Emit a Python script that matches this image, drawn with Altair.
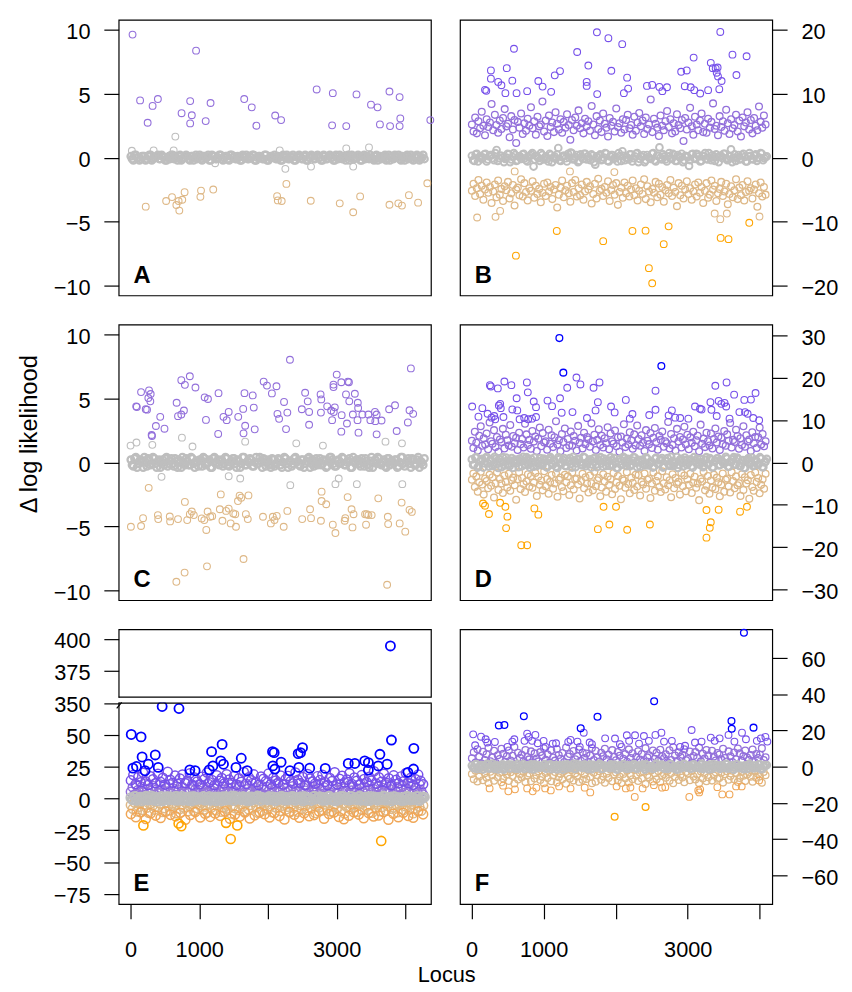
import altair as alt
import numpy as np
import pandas as pd

FONT = "Liberation Sans"

# ---------------- data ----------------
# dense bands: values at evenly sampled loci (two interleaved samples per band where it is solid)
A_grey = [0.1,-0.2,0.2,0.0,-0.1,0.1,-0.2,0.1,0.2,-0.1,0.0,0.2,-0.1,0.1,-0.2,0.0,-0.1,0.2,0.1,-0.2,
          0.2,-0.1,0.0,0.1,-0.2,0.1,0.0,-0.1,0.2,-0.2,0.1,0.0,-0.2,0.2,0.1,-0.1,0.2,-0.1,0.0,0.1,
          -0.2,0.2,0.1,-0.1,0.0,-0.2,0.1,0.2,-0.1,0.0,0.2,-0.2,0.1,0.0,-0.1,0.2,-0.2,0.1,0.0,-0.1,
          0.1,-0.2,0.2,0.0,-0.1,0.1,0.2,-0.2,0.0,0.1,-0.1,0.2,-0.2,0.0,0.1,-0.1,0.2,0.0,-0.2,0.1,
          -0.1,0.2,0.0,-0.2,0.1,0.2,-0.1,0.0,0.1,-0.2,0.2,-0.1,0.0,0.1,-0.2,0.2,0.1,-0.1,0.0,-0.2,
          0.2,0.0,-0.1,0.1,-0.2,0.2,0.0,-0.1,0.1,0.2,-0.2,0.0,0.1,-0.1,0.2,-0.2,0.0,0.1,-0.1,0.2]
A_grey2 = [-0.1,0.2,0.0,-0.2,0.1,0.1,-0.1,0.2,-0.2,0.0,0.1,-0.1,0.2,0.0,-0.2,0.1,0.2,-0.1,0.0,0.1,
           -0.2,0.0,0.2,-0.1,0.1,-0.2,0.2,0.0,-0.1,0.1,0.0,0.2,-0.2,0.1,-0.1,0.0,0.2,-0.2,0.1,-0.1,
           0.2,0.0,-0.1,0.1,-0.2,0.2,0.0,-0.1,0.1,0.2,-0.2,0.0,0.1,-0.1,0.2,-0.2,0.0,0.1,0.2,-0.1,
           0.0,-0.2,0.1,0.2,-0.1,0.0,-0.2,0.1,0.2,-0.1,0.1,-0.2,0.0,0.2,-0.1,0.1,0.0,-0.2,0.2,-0.1,
           0.1,0.0,-0.2,0.2,-0.1,0.0,0.1,-0.2,0.2,0.1,-0.1,0.0,0.2,-0.2,0.1,-0.1,0.0,0.2,-0.1,0.1,
           -0.2,0.1,0.0,0.2,-0.1,-0.2,0.1,0.2,0.0,-0.1,0.1,-0.2,0.2,0.0,-0.1,0.1,0.2,-0.2,0.0,-0.1]
A_grey_out_locus = [652,2254,3242,3472,3141,2628,1232,336,628,19,2172]
A_grey_out_value = [1.65,-0.88,-0.7,0.8,0.72,-0.7,-0.44,0.57,0.57,0.54,0.57]
A_pur_locus = [29,954,139,249,321,398,743,868,892,868,1094,1165,1655,1765,1832,2106,2192,2710,2945,2935,
               3141,3290,3501,3597,3631,3770,3779,3918,3928,3918,4365]
A_pur_value = [9.64,8.38,4.48,2.73,4.05,4.59,3.48,4.43,3.32,2.68,2.86,4.28,4.59,3.94,2.5,3.3,2.94,5.34,5.05,2.53,
               2.47,4.95,4.15,3.94,2.6,5.18,2.47,4.74,3.07,2.47,2.94]
A_tan_locus = [221,518,604,667,700,710,753,787,1026,1017,1204,2134,2144,2201,2269,2624,3046,3242,3343,3770,
               3899,3952,4053,4187,4321]
A_tan_value = [-3.84,-3.4,-3.09,-3.71,-3.4,-4.15,-3.3,-2.71,-2.58,-3.07,-2.5,-3.02,-3.35,-3.4,-2.06,-3.38,-3.58,-4.28,-3.04,-3.69,
               -3.58,-3.76,-2.94,-3.53,-2.01]

B_grey = [0.3,-0.5,0.6,0.1,-0.2,0.5,-0.6,0.2,0.4,-0.4,1.2,-0.1,0.3,-0.7,0.0,0.5,-0.3,0.7,-0.5,0.2,
          -0.2,0.6,-0.4,0.1,0.5,-1.4,0.3,-0.1,0.7,-0.3,0.2,-0.6,0.4,0.0,-0.2,1.5,-0.5,0.3,-0.1,0.6,
          0.8,-0.3,0.1,-0.7,0.5,-0.2,0.6,0.2,-0.4,0.3,-1.1,0.0,0.5,-0.3,0.7,-0.5,0.2,0.4,-0.1,-0.6,
          0.3,1.0,-0.4,0.0,0.5,-0.6,0.2,0.7,-0.2,0.1,-0.7,0.4,-0.1,0.6,-0.4,0.3,1.6,-0.3,0.2,-0.6,
          0.7,-0.2,0.4,-0.5,0.1,0.6,-0.4,0.2,-1.3,0.5,-0.1,0.6,0.2,-0.5,0.3,-0.2,0.7,-0.4,0.1,0.5,
          -0.7,0.3,0.6,-0.1,-0.3,1.3,0.0,-0.5,0.4,-0.2,0.6,-0.6,0.2,0.3,-0.3,0.5,-0.1,0.7,-0.4,0.1]
B_grey2 = [-0.4,0.5,-0.6,0.2,0.0,0.6,-0.3,0.4,-0.1,0.7,-0.5,0.3,0.0,-0.2,0.6,-0.7,0.1,0.4,-0.4,0.2,
           0.5,-0.1,-0.6,0.3,0.7,-0.3,0.1,-0.5,0.4,0.0,-0.2,0.6,-0.7,0.2,0.5,-0.4,0.1,0.3,-0.6,0.0,
           0.7,-0.2,0.4,-0.5,0.1,0.6,-0.3,-0.1,0.5,-0.7,0.2,0.3,-0.4,0.0,0.6,-0.6,0.4,-0.2,0.1,0.7,
           -0.5,0.3,0.0,-0.3,0.5,-0.1,0.6,-0.7,0.2,0.4,-0.4,0.1,-0.2,0.7,-0.6,0.3,0.0,0.5,-0.3,0.2,
           -0.1,0.6,-0.5,0.4,0.0,-0.7,0.3,0.1,-0.4,0.6,-0.2,0.5,-0.6,0.2,0.7,-0.3,0.0,0.4,-0.5,0.1,
           0.3,-0.1,0.6,-0.4,0.2,-0.7,0.5,0.0,-0.3,0.4,0.1,-0.6,0.7,-0.2,0.3,-0.5,0.0,0.6,-0.1,0.2]
B_pur = [5.2,4.1,6.3,3.8,5.7,4.6,7.2,5.0,3.5,6.0,4.8,5.5,8.4,4.3,6.7,5.1,3.9,5.8,4.5,6.2,
         7.6,4.9,5.3,3.2,6.5,4.4,5.9,2.3,5.6,4.7,6.9,3.7,5.4,4.2,6.1,5.0,7.9,4.6,5.7,3.6,
         6.4,4.9,5.2,8.8,4.1,5.8,3.4,6.6,4.8,5.5,4.0,7.1,5.3,4.4,6.0,3.9,5.6,4.7,6.8,5.1,
         2.8,5.9,4.3,6.3,5.0,7.4,4.6,5.4,3.8,6.1,4.9,5.7,4.2,8.1,5.2,3.5,6.5,4.5,5.8,4.0,
         6.9,5.3,4.7,3.3,6.2,5.0,5.6,4.1,7.7,4.8,5.4,3.9,6.0,4.4,5.9,6.7,4.6,5.1,3.6,6.4,
         4.2,5.5,7.0,4.9,5.8,3.7,6.3,4.5,5.2,9.1,4.0,6.1,5.3,4.7,3.4,6.6,5.0,4.3,5.7,7.3,
         4.8,6.0,3.8,5.4,4.1,6.8,5.1,4.6,5.9,2.6,6.2,4.4,5.5,7.8,4.9,3.6,6.4,5.2,4.3,5.8,
         6.9,4.0,5.3,3.9,6.1,4.7,5.6,8.5,4.5,5.0,3.5,6.5,4.8,5.7,4.2,7.5,5.4,3.7,6.0,4.6,
         5.1,6.7,4.1,5.8,3.3,6.3,4.9,5.5,7.1,4.4,5.9,3.8,6.2,5.0,4.3,8.0,5.6,4.7,6.6,5.2]
B_tan = [-5.2,-4.1,-6.0,-4.8,-3.5,-5.7,-4.4,-6.6,-5.0,-3.9,-5.5,-4.6,-7.1,-5.3,-4.2,-6.2,-3.6,-5.8,-4.9,-6.8,
         -4.5,-5.1,-3.8,-6.4,-5.6,-4.3,-7.5,-5.0,-4.7,-5.9,-3.4,-6.1,-4.0,-5.4,-6.7,-4.8,-5.2,-3.7,-6.3,-4.4,
         -5.7,-4.9,-7.0,-5.5,-4.1,-6.0,-3.9,-5.3,-4.6,-6.5,-5.0,-4.3,-7.8,-5.8,-4.7,-3.6,-6.2,-5.1,-4.4,-5.6,
         -6.9,-4.0,-5.4,-3.5,-6.1,-4.8,-5.9,-4.2,-6.6,-5.3,-3.8,-5.0,-4.5,-7.2,-5.7,-4.1,-6.4,-3.3,-5.2,-4.9,
         -6.0,-4.6,-5.5,-3.7,-6.8,-5.1,-4.3,-5.8,-4.0,-7.4,-5.4,-4.7,-6.3,-3.9,-5.6,-4.4,-6.1,-5.0,-3.6,-5.9,
         -4.8,-6.7,-5.2,-4.2,-5.7,-3.4,-6.5,-4.5,-5.3,-7.0,-4.9,-5.5,-3.8,-6.2,-4.1,-5.8,-4.6,-6.9,-5.1,-4.3,
         -5.6,-3.5,-6.0,-4.7,-5.4,-7.6,-4.0,-5.9,-4.4,-6.4,-5.0,-3.7,-5.7,-4.8,-6.6,-5.3,-4.2,-6.1,-3.9,-5.5,
         -4.6,-7.1,-5.2,-4.0,-6.3,-5.8,-3.6,-5.0,-4.4,-6.8,-5.6,-4.9,-3.8,-6.0,-5.3,-4.1,-7.3,-5.7,-4.5,-6.2,
         -5.1,-3.4,-6.5,-4.7,-5.9,-4.3,-6.7,-5.4,-3.7,-5.2,-4.8,-6.4,-5.0,-4.2,-7.7,-5.6,-3.9,-6.1,-4.6,-5.8]
B_vio_locus = [1740,1899,2091,1466,589,1621,1940,269,269,489,370,415,187,205,566,470,625,772,927,986,
               1105,1155,1228,1598,1598,1744,2159,2114,2173,2434,2507,2607,2648,2712,2909,2986,3082,2959,3041,3091,
               3173,3283,3320,3347,3388,3402,3420,3415,3470,3438,3452,3621,3676,3817]
B_vio_value = [19.64,18.71,17.78,16.55,17.06,14.43,13.61,13.66,12.37,14.02,11.86,11.34,10.62,10.46,12.06,10.1,10.1,10.41,12.01,11.13,
               10.31,12.89,13.56,11.86,11.24,9.95,12.53,10.1,10.82,11.24,11.39,11.08,10.41,11.03,13.45,13.66,15.67,11.19,11.03,10.57,
               10.05,10.57,14.85,14.02,13.97,13.3,12.73,14.12,12.01,10.72,19.69,16.13,12.94,15.88]
B_tan_out_locus = [78,333,397,3374,3452,3543,3996,599,1366,1982]
B_tan_out_value = [-9.38,-9.28,-8.35,-8.76,-9.64,-8.76,-9.23,-2.16,-2.16,-2.27]
B_ora_locus = [616,1183,1827,2233,2415,2735,2667,2461,2507,3457,3566,3854]
B_ora_value = [-15.36,-11.49,-13.09,-11.49,-11.44,-10.77,-13.56,-17.32,-19.69,-12.58,-12.78,-10.21]

C_grey = [0.2,-0.3,0.4,-0.1,0.2,-0.4,0.0,0.3,-0.2,0.4,-0.1,0.1,-0.4,0.2,0.3,-0.3,0.1,-0.1,0.3,-0.4,
          0.0,0.4,-0.2,0.1,-0.2,0.3,-0.4,0.1,0.2,-0.3,0.3,-0.1,0.2,-0.4,0.4,0.0,-0.2,0.2,-0.1,0.3,
          -0.3,0.1,0.3,-0.4,0.1,-0.1,0.4,-0.2,0.0,0.2,-0.3,0.4,-0.1,0.1,0.3,-0.3,0.2,-0.4,0.2,-0.1,
          0.3,-0.2,0.0,0.3,-0.4,0.1,-0.1,0.4,0.1,-0.3,0.2,-0.1,0.3,-0.4,0.2,0.0,-0.2,0.3,-0.1,0.1,
          -0.3,0.4,0.2,-0.3,0.1,-0.1,0.4,-0.2,0.0,0.3,-0.4,0.1,0.2,-0.1,0.3,-0.3,0.1,-0.4,0.4,0.0,
          -0.1,0.3,-0.2,0.2,-0.4,0.3,0.1,-0.1,0.2,-0.3,0.4,-0.1,0.0,0.3,-0.4,0.2,-0.2,0.4,0.1,-0.2]
C_grey2 = [-0.2,0.3,-0.4,0.1,0.0,0.4,-0.3,0.2,-0.1,0.3,-0.4,0.2,0.0,-0.2,0.4,-0.1,0.3,-0.3,0.1,0.2,
           -0.4,0.0,0.3,-0.2,0.4,-0.1,0.1,-0.3,0.2,0.4,-0.2,0.0,-0.4,0.3,-0.1,0.2,0.1,-0.3,0.4,-0.2,
           0.0,0.3,-0.1,0.2,-0.4,0.4,-0.2,0.1,0.3,-0.3,0.0,-0.1,0.4,-0.4,0.2,0.1,-0.2,0.3,-0.3,0.0,
           0.2,-0.4,0.4,-0.1,0.1,-0.3,0.3,0.0,-0.2,0.2,-0.4,0.1,0.4,-0.1,-0.3,0.3,0.0,-0.2,0.2,-0.4,
           0.1,0.4,-0.1,-0.3,0.2,0.0,0.3,-0.2,0.1,-0.4,0.4,-0.1,0.2,-0.3,0.0,0.3,-0.2,0.1,-0.4,0.2,
           0.4,-0.1,0.0,-0.3,0.3,-0.2,0.1,0.2,-0.4,0.0,0.4,-0.3,0.1,-0.1,0.3,-0.2,0.2,-0.4,0.0,0.3]
C_grey_out_locus = [0,86,317,748,902,1669,2413,2801,3712,3952,451,1597,2326,2983,3295,3957,3031,1429]
C_grey_out_value = [1.31,1.55,1.37,1.93,1.24,1.62,1.49,1.31,1.62,1.49,-1.13,-1.26,-1.78,-1.7,-1.7,-1.7,-1.26,-1.08]
C_pur_locus = [82,91,153,221,240,269,293,288,259,312,307,369,432,494,671,691,739,777,739,791,
               863,945,1079,1127,1098,1281,1276,1353,1400,1429,1568,1640,1659,1669,1645,1779,1794,1808,1938,1986,
               2058,2125,2139,2163,2235,2264,2283,2321,2494,2542,2580,2600,2600,2767,2777,2772,2863,2935,2921,2959,
               2974,2955,2955,3002,3069,3069,3074,3137,3151,3165,3180,3185,3266,3309,3314,3237,3305,3319,3376,3463,
               3492,3559,3564,3583,3583,3655,3765,3851,3875,4038,4062,4115,4082]
C_pur_value = [4.38,4.33,5.49,4.15,4.12,5.62,5.34,4.77,5.03,2.06,2.14,2.84,3.56,2.63,4.66,3.61,3.74,4.05,6.42,6.06,
               6.73,5.85,5.08,4.95,3.32,5.41,2.22,3.56,3.3,3.94,3.56,4.18,5.41,2.86,2.27,5.23,4.28,2.58,6.31,6.0,
               5.39,5.95,3.79,3.4,4.72,2.6,3.89,8.02,4.15,5.44,4.77,3.94,2.94,5.31,4.92,3.89,4.38,3.3,4.05,3.94,
               4.3,5.88,6.08,6.86,6.26,2.4,3.69,5.31,3.04,6.31,6.26,4.77,5.36,4.66,4.25,3.74,3.3,2.32,3.74,3.74,
               3.3,3.94,3.22,3.74,2.19,3.27,4.15,4.46,2.45,3.12,4.07,3.79,7.34]
C_tan_locus = [5,153,182,264,398,403,571,576,691,791,825,863,892,921,1036,1074,1103,1122,1161,1189,
               1300,1314,1338,1391,1429,1458,1496,1525,1535,1564,1588,1612,1679,1707,1717,1928,2043,2072,2096,2129,
               2230,2283,2499,2614,2628,2782,2782,2849,2772,2945,2983,3118,3127,3161,3218,3247,3232,3415,3439,3463,
               3511,3429,3607,3746,3751,3919,3947,4000,4062,4096,667,787,1113,1645,3736]
C_tan_value = [-5.03,-4.97,-4.36,-1.99,-4.12,-4.43,-4.23,-4.61,-4.43,-3.09,-4.51,-4.05,-3.84,-4.12,-4.38,-4.51,-5.28,-3.84,-4.25,-4.2,
               -3.66,-2.5,-4.56,-3.79,-3.61,-4.77,-3.99,-4.05,-5.03,-3.02,-2.6,-2.76,-4.05,-4.43,-2.58,-4.25,-4.77,-4.25,-4.51,-4.18,
               -5.03,-3.79,-4.43,-3.66,-4.36,-2.29,-3.02,-3.27,-4.56,-4.87,-5.52,-4.56,-4.36,-2.71,-3.66,-4.05,-5.08,-4.05,-4.05,-4.12,
               -4.12,-4.87,-2.81,-4.25,-4.82,-4.77,-3.14,-5.41,-3.71,-3.87,-9.33,-8.61,-8.12,-7.55,-9.56]

D_grey = [0.7,-0.5,1.2,-0.9,0.2,-1.2,1.0,-0.2,0.5,-0.8,1.3,-0.4,0.8,-1.1,0.1,1.1,-0.6,0.4,-1.3,0.6,
          -0.1,0.9,-0.9,0.3,1.2,-0.5,0.8,-1.0,0.1,-0.3,1.0,-0.7,0.5,-1.2,0.9,-0.1,0.4,-1.0,1.2,-0.4,
          0.6,-0.8,0.2,1.0,-1.2,0.5,-0.2,0.8,-0.6,1.3,-0.9,0.0,0.7,-0.5,1.1,-1.1,0.3,-0.2,0.9,-0.8,
          0.4,1.2,-0.6,0.1,-1.3,0.8,-0.4,1.0,-0.9,0.2,-0.5,1.2,-0.1,0.6,-1.0,0.5,-0.7,0.9,-0.3,0.1,
          -1.0,1.1,-0.4,0.6,-1.2,0.4,1.0,-0.8,0.2,-0.1,1.3,-0.6,0.8,-0.9,0.5,-0.2,0.7,-1.2,0.3,0.9,
          -0.5,0.0,-0.8,1.2,-0.4,0.6,-1.1,0.4,1.0,-0.6,0.2,-0.2,0.9,-1.0,0.1,1.2,-0.5,0.8,-0.9,0.5,
          -1.3,0.7,-0.1,1.1,-0.7,0.4,-0.4,0.9,-1.1,0.2]
D_grey2 = [-0.6,1.1,-1.2,0.3,0.8,-0.2,1.3,-1.0,0.5,-0.4,0.9,-1.3,0.1,1.2,-0.7,0.4,-0.9,1.0,-0.1,0.6,
           -1.1,0.2,1.3,-0.5,0.7,-1.2,0.0,1.1,-0.8,0.3,-0.3,0.9,-1.0,0.5,1.2,-0.6,0.1,-1.3,0.8,-0.2,
           1.0,-0.9,0.4,-0.4,1.3,-1.1,0.6,0.0,-0.7,1.1,-0.3,0.2,-1.2,0.9,-0.5,0.7,1.2,-1.0,0.3,-0.1,
           -0.8,0.5,1.0,-1.3,0.1,-0.6,1.3,-0.2,0.8,-0.9,0.4,1.1,-1.1,0.0,0.6,-0.4,1.2,-0.7,0.2,-1.2,
           0.9,-0.3,0.5,1.0,-1.0,0.3,-0.5,1.3,-0.8,0.1,-1.3,0.7,-0.1,1.1,-0.6,0.4,-0.9,1.2,-0.2,0.0,
           0.8,-1.1,0.6,-0.4,1.0,-1.2,0.2,0.9,-0.7,0.5,-0.3,1.3,-1.0,0.1,0.7,-0.5,1.1,-0.8,0.4,-1.3,
           0.3,1.0,-0.2,-0.9,0.6,-0.6,1.2,-1.1,0.0,0.8]
D_pur = [5.1,3.4,7.2,4.6,2.8,6.3,8.5,3.9,5.7,4.2,6.8,3.1,9.4,5.0,4.4,7.6,3.6,6.0,2.5,5.4,
         4.8,7.9,3.3,6.5,5.2,4.0,8.8,3.7,6.2,4.5,5.8,2.9,7.0,4.3,5.5,3.5,9.1,6.6,4.1,5.3,
         3.2,7.4,4.9,6.1,2.7,5.6,8.2,3.8,6.9,4.7,5.0,3.0,7.7,4.4,6.4,3.6,5.9,9.7,4.2,5.2,
         2.6,6.7,4.8,8.0,3.4,5.5,4.0,7.3,3.9,6.2,5.1,2.8,8.6,4.6,5.8,3.3,7.0,4.3,6.0,5.4,
         3.7,9.2,4.9,6.5,2.9,5.3,7.8,4.1,6.3,3.5,5.7,4.5,8.3,3.1,6.8,5.0,4.4,7.5,3.8,5.9,
         2.5,6.1,4.7,9.0,3.6,5.6,4.2,7.1,5.2,3.2,6.6,4.0,8.7,5.5,3.9,6.4,4.6,2.7,7.6,5.1,
         4.3,6.9,3.4,5.8,8.1,4.8,3.0,6.2,5.3,7.3,3.7,5.0,4.5,9.5,3.3,6.7,4.1,5.7,2.8,7.9,
         4.9,6.0,3.5,5.4,8.4,4.2,6.5,3.1,5.9,4.6,7.2,3.8,5.2,6.3,2.6,8.9,4.4,5.6,3.6,7.0,
         5.0,4.0,6.8,3.3,5.5,8.0,4.7,6.1,2.9,5.8,4.3,7.4,3.9,6.6,5.1,9.3,3.5,5.3,4.8,7.7,
         6.2,3.2,5.7,4.1,8.5,3.7,6.4,4.9,5.4,2.7,7.1,4.5,6.0,3.4,5.9,8.2,4.2,6.7,3.8,5.0]
D_tan = [-4.1,-2.6,-5.8,-3.3,-6.9,-4.7,-2.2,-5.2,-7.6,-3.8,-4.4,-6.1,-2.9,-5.5,-3.5,-8.3,-4.9,-2.4,-6.5,-3.9,
         -5.0,-7.2,-3.1,-4.6,-5.9,-2.7,-6.7,-4.2,-3.6,-5.4,-8.8,-4.0,-2.3,-6.3,-3.7,-5.1,-7.0,-4.5,-2.8,-5.7,
         -3.2,-6.0,-4.8,-2.5,-7.9,-3.4,-5.3,-4.3,-6.6,-2.1,-5.6,-3.9,-7.4,-4.6,-3.0,-6.2,-5.0,-2.6,-8.1,-4.1,
         -3.6,-5.8,-6.8,-2.9,-4.7,-3.3,-7.7,-5.4,-2.4,-6.4,-4.0,-3.8,-5.2,-8.5,-4.4,-2.7,-6.1,-3.5,-5.0,-7.1,
         -3.1,-4.9,-6.6,-2.2,-5.6,-4.2,-3.7,-8.0,-5.9,-2.8,-4.5,-6.9,-3.4,-5.3,-4.0,-7.5,-2.5,-6.3,-4.7,-3.2,
         -5.5,-8.7,-3.9,-4.3,-6.0,-2.3,-5.1,-7.3,-3.6,-4.8,-6.5,-2.9,-5.7,-3.0,-7.8,-4.6,-5.2,-2.6,-6.2,-4.1,
         -3.8,-8.4,-5.0,-2.4,-6.7,-4.4,-3.3,-5.8,-7.0,-2.1,-4.9,-6.4,-3.5,-5.4,-4.2,-8.2,-2.8,-6.1,-3.7,-5.1,
         -4.6,-7.6,-2.5,-5.6,-3.1,-6.8,-4.0,-5.3,-2.7,-7.2,-4.8,-3.4,-6.0,-5.0,-8.9,-3.9,-4.5,-2.2,-6.6,-5.5,
         -3.2,-7.4,-4.3,-5.9,-2.9,-6.3,-3.6,-4.7,-8.0,-5.2,-2.6,-6.9,-4.1,-3.8,-5.7,-7.1,-2.3,-4.4,-6.1,-3.3,
         -5.4,-4.9,-7.9,-2.8,-6.5,-3.5,-5.0,-4.2,-8.6,-3.0,-5.8,-6.7,-2.4,-4.6,-3.7,-7.3,-5.3,-4.0,-6.2,-2.7]
D_vio_locus = [9,96,150,223,255,269,278,315,329,365,379,398,406,443,456,553,566,626,635,667,
               731,768,781,786,840,863,895,895,1054,1118,1228,1251,1328,1401,1456,1511,1602,1693,1721,1753,
               1776,1936,1986,2141,2196,2233,2466,2553,2553,2735,2780,2826,2895,3009,3101,3170,3192,3315,3329,3383,
               3402,3429,3466,3511,3539,3534,3580,3644,3717,3785,3795,3831,3877,3909,3941,3991]
D_vio_value = [13.18,10.78,12.79,11.47,18.2,17.9,10.54,10.93,10.16,17.44,13.41,13.8,12.79,10.7,19.07,18.2,12.48,15.12,12.25,10.16,
               10.47,18.84,16.51,10.16,10.31,14.34,10.7,13.02,14.57,13.26,15.12,11.71,17.6,11.86,20.0,18.37,10.47,17.6,12.25,14.19,
               18.84,13.18,11.78,14.73,10.31,11.4,11.16,12.4,16.9,11.09,12.25,10.54,10.47,10.31,13.18,12.64,12.48,14.19,12.4,18.06,
               10.93,14.5,13.8,14.03,18.84,13.18,10.31,15.97,11.86,14.73,11.86,11.47,14.81,10.47,16.36,9.92]
D_blue_locus = [1219,1274,2634]
D_blue_value = [29.3,21.16,22.71]
D_ora_locus = [160,187,242,397,470,498,480,690,772,872,927,1832,1753,1913,2005,2160,2475,3260,3320,3306,3260,3429,3726,3822]
D_ora_value = [-9.69,-10.23,-12.17,-9.53,-10.47,-12.79,-15.5,-19.53,-19.53,-10.85,-12.33,-10.47,-15.74,-14.65,-10.47,-15.89,
               -14.65,-11.24,-14.11,-15.43,-17.75,-11.16,-11.63,-10.47]

E_grey = [0.6,-1.1,1.6,-0.3,1.0,-1.7,0.1,1.3,-0.8,1.9,-1.4,0.4,-0.1,1.2,-1.9,0.3,1.5,-0.9,0.7,-1.2,
          1.7,-0.5,0.2,-1.5,0.8,-0.4,1.4,-1.8,0.5,1.0,-0.6,0.0,1.6,-1.0,0.8,-1.6,0.2,1.2,-0.6,0.9,
          -1.8,0.1,1.5,-0.8,0.4,-1.3,1.8,-0.2,1.1,-0.7,0.4,-1.6,1.3,-1.2,0.6,-0.1,1.9,-1.4,0.8,-0.4,
          0.2,1.5,-1.0,0.6,-1.7,1.0,-0.3,1.2,-1.4,0.3,-0.6,1.6,-0.9,0.7,0.0,1.4,-1.9,0.9,-0.5,0.1,
          -1.2,1.8,-0.2,1.1,-0.8,0.5,-1.5,1.4,-0.4,0.1,-1.8,1.0,-1.1,1.7,-0.2,0.6,-1.3,1.2,-0.7,0.3,
          -1.0,1.9,-0.4,0.8,-1.7,0.4,1.6,-0.5,0.2,-1.4,1.0,-0.9,1.6,-0.1,0.7,-2.0,1.3,-0.6,0.4,-1.1,
          0.8,-1.4,1.8,-0.3,0.5,-0.8,1.4,-1.6,0.2,1.2]
E_grey2 = [-0.7,1.4,-1.6,0.4,1.0,-0.2,1.8,-1.3,0.6,-0.5,1.2,-1.9,0.1,1.6,-0.9,0.5,-1.2,1.3,-0.1,0.8,
           -1.5,0.2,1.7,-0.7,0.9,-1.7,0.0,1.5,-1.0,0.4,-0.4,1.2,-1.4,0.6,1.6,-0.8,0.1,-1.9,1.1,-0.3,
           1.4,-1.2,0.5,-0.5,1.9,-1.5,0.8,0.0,-0.9,1.5,-0.4,0.3,-1.7,1.2,-0.6,0.9,1.6,-1.3,0.4,-0.1,
           -1.1,0.7,1.4,-1.8,0.2,-0.8,1.8,-0.3,1.0,-1.2,0.5,1.5,-1.5,0.0,0.8,-0.5,1.6,-1.0,0.3,-1.6,
           1.2,-0.4,0.7,1.4,-1.4,0.4,-0.7,1.7,-1.1,0.1,-1.8,0.9,-0.2,1.5,-0.8,0.5,-1.2,1.6,-0.3,0.0,
           1.1,-1.5,0.8,-0.5,1.3,-1.6,0.3,1.2,-0.9,0.6,-0.4,1.9,-1.3,0.1,0.9,-0.7,1.4,-1.0,0.5,-1.7,
           0.4,1.3,-0.3,-1.2,0.8,-0.8,1.6,-1.4,0.0,1.0]
E_pur = [5.2,8.7,3.1,10.4,6.6,2.4,9.1,4.8,11.7,7.3,3.8,5.9,9.8,2.9,7.0,4.3,10.9,6.1,3.4,8.2,
         5.5,11.2,4.0,7.7,2.6,9.4,6.4,3.6,8.9,5.0,12.0,4.5,7.4,2.2,10.1,6.8,3.3,8.5,5.7,9.9,
         4.2,7.1,11.5,3.0,6.2,8.0,4.7,10.6,5.4,2.7,9.3,6.9,3.9,7.8,11.0,4.9,5.8,8.6,3.2,10.3,
         6.3,2.5,9.6,4.4,7.5,5.1,11.8,3.5,8.3,6.0,4.1,10.0,7.2,2.8,9.0,5.6,3.7,8.8,6.5,11.3,
         4.6,7.9,3.0,10.7,5.3,8.1,2.3,6.7,9.5,4.0,7.6,11.9,5.9,3.4,8.4,6.1,10.2,4.8,2.6,9.2,
         7.0,5.5,11.4,3.8,6.4,8.7,4.3,10.8,5.0,2.9,9.7,7.3,3.6,6.8,11.1,4.5,8.0,5.7,3.1,10.5,
         6.2,9.0,4.1,7.7,2.4,11.6,5.2,8.5,3.9,6.6,10.0,4.7,7.4,2.7,9.4,5.4,3.3,8.2,6.0,11.0,
         4.9,7.1,10.3,3.5,5.8,8.9,2.5,6.9,9.8,4.2,7.8,5.1,11.7,3.7,6.3,8.6,4.4,10.9,5.6,3.0]
E_vio = [14.2,18.5,11.3,16.8,12.7,20.1,13.5,10.6,17.4,15.0,11.9,19.3,13.1,16.2,10.9,21.0,14.7,12.3,17.9,11.5,
         15.6,18.8,12.0,14.0,19.7,10.8,16.5,13.3,11.1,17.1,15.3,20.4,12.6,14.5,10.4,18.2,13.8,16.0,11.7,19.0,
         14.9,12.2,17.6,10.7,15.8,13.0,20.8,11.4,16.6,14.3,18.9,12.8,10.5,17.2,15.5,13.6,19.5,11.2,16.3,14.1,
         12.4,18.0,10.9,15.1,17.7,13.4,11.8,20.3,14.6,12.1,16.9,10.6,19.2,15.7,13.2,11.6,17.5,14.4,18.6,12.9,
         10.3,16.1,13.7,20.6,11.0,15.4,17.8,12.5,14.8,19.8,11.3,16.4,13.9,10.8,18.3,15.2,12.7,17.0,14.0,21.4,
         11.5,16.7,13.1,19.4,12.3,15.9,10.4,18.1,14.6,11.9,17.3,13.5,20.0,12.0,16.2,10.7,15.0,18.7,13.8,11.1]
E_tan = [-5.2,-8.1,-3.4,-10.3,-6.6,-2.8,-9.0,-4.7,-7.3,-11.2,-3.9,-5.8,-8.8,-2.5,-6.9,-4.2,-10.7,-7.6,-3.1,-5.5,
         -9.4,-4.0,-6.2,-11.6,-2.9,-8.4,-5.0,-7.0,-3.6,-10.0,-6.0,-4.5,-9.7,-2.6,-7.8,-5.3,-3.3,-8.9,-6.4,-11.0,
         -4.3,-7.2,-2.7,-9.3,-5.6,-3.8,-10.5,-6.8,-4.8,-8.0,-3.0,-11.8,-5.9,-7.5,-2.4,-9.1,-4.6,-6.3,-10.1,-3.5,
         -8.6,-5.1,-7.9,-2.8,-6.7,-11.4,-4.1,-9.6,-5.4,-3.2,-8.3,-6.1,-10.8,-4.4,-7.1,-2.6,-9.9,-5.7,-3.7,-8.7,
         -6.5,-11.1,-4.9,-7.4,-3.0,-10.4,-5.2,-8.2,-2.5,-6.0,-9.2,-4.2,-7.7,-3.4,-11.5,-5.8,-6.9,-2.9,-9.5,-4.7,
         -8.0,-3.6,-10.2,-6.2,-5.0,-7.3,-2.7,-9.8,-4.0,-11.9,-6.6,-3.3,-8.5,-5.5,-7.0,-10.6,-3.9,-4.5,-9.0,-2.8,
         -6.4,-8.8,-5.3,-11.3,-3.1,-7.6,-4.8,-10.0,-6.7,-2.6,-9.4,-5.9,-3.8,-8.2,-7.2,-4.3,-10.9,-5.1,-3.2,-9.1,
         -6.1,-2.9,-8.6,-4.6,-11.7,-7.8,-3.5,-6.3,-9.7,-5.6]
E_mor = [-12.3,-14.8,-10.9,-16.2,-11.6,-13.5,-15.4,-10.4,-12.9,-14.1,-11.2,-16.8,-13.0,-10.7,-15.0,-12.1,-14.5,-11.8,-13.7,-10.2,
         -16.0,-12.6,-14.3,-11.0,-15.7,-13.3,-10.8,-12.4,-14.9,-11.4,-13.9,-16.5,-10.5,-12.8,-15.2,-11.7,-14.0,-13.1,-10.3,-15.9,
         -12.2,-11.1,-14.6,-16.3,-13.6,-10.9,-12.7,-15.5,-11.5,-14.2,-13.4,-10.6,-16.7,-12.0,-14.7,-11.3,-13.8,-15.1,-10.1,-12.5]
# blue points of panel E; 72.3 / 70.7 are the two points drawn at the axis break,
# 394.5 lies above the break
E_blue_locus = [10,153,34,86,168,211,259,360,403,460,705,863,940,1146,1180,1199,1314,1333,1353,1535,
                1612,1698,2067,2091,2072,2101,2192,2321,2441,2475,2504,2451,2609,2835,3170,3266,3410,3463,3463,3631,
                3607,3736,3799,4038,4120,4125,3784]
E_blue_value = [50.3,48.4,23.8,25.1,32.6,21.8,26.9,34.2,24.4,72.3,70.7,22.5,21.8,22.5,36.8,25.6,29.5,42.5,26.9,24.4,
                31.6,21.8,36.8,36.0,25.6,23.1,28.5,21.8,35.2,36.0,39.9,24.4,23.8,23.6,27.5,27.5,29.5,28.2,22.3,34.7,
                25.6,26.9,45.9,20.5,23.1,39.4,394.5]
E_ora_locus = [187,700,739,1391,1458,1554,3650]
E_ora_value = [-21.2,-19.7,-21.8,-19.2,-31.9,-21.2,-33.4]
E_BREAK_SHIFT = 274.6      # values above the break are drawn shifted down by this amount
E_TICKS = [-75, -50, -25, 0, 25, 50, 75, 100.4, 125.4]

F_grey = [0.6,-1.0,1.4,-0.3,0.9,-1.5,0.1,1.1,-0.7,1.6,-1.2,0.4,-0.1,1.0,-1.6,0.3,1.3,-0.8,0.6,-1.1,
          1.5,-0.4,0.2,-1.3,0.7,-0.3,1.2,-1.5,0.5,0.9,-0.6,0.0,1.4,-0.9,0.7,-1.4,0.2,1.0,-0.5,0.8,
          -1.6,0.1,1.3,-0.7,0.4,-1.1,1.5,-0.2,1.0,-0.6,0.3,-1.4,1.2,-1.0,0.5,-0.1,1.6,-1.2,0.7,-0.4,
          0.2,1.3,-0.8,0.5,-1.5,0.8,-0.3,1.1,-1.3,0.3,-0.5,1.4,-0.8,0.6,-0.1,1.2,-1.6,0.8,-0.5,0.1,
          -1.0,1.6,-0.2,1.0,-0.7,0.4,-1.3,1.3,-0.4,0.1,-1.6,0.9,-0.9,1.5,-0.2,0.5,-1.1,1.0,-0.6,0.3,
          -0.9,1.6,-0.3,0.7,-1.5,0.4,1.4,-0.4,0.2,-1.2,0.9,-0.8,1.4,-0.1,0.6,-1.7,1.1,-0.6,0.3,-1.0,
          0.7,-1.3,1.6,-0.3,0.5,-0.7,1.2,-1.4,0.2,1.0]
F_grey2 = [-0.5,1.2,-1.4,0.3,0.8,-0.2,1.5,-1.1,0.5,-0.4,1.0,-1.5,0.1,1.3,-0.7,0.4,-1.0,1.1,-0.1,0.6,
           -1.2,0.2,1.4,-0.6,0.7,-1.3,0.0,1.2,-0.8,0.3,-0.3,1.0,-1.1,0.5,1.3,-0.6,0.1,-1.5,0.9,-0.2,
           1.1,-1.0,0.4,-0.4,1.5,-1.2,0.6,0.0,-0.7,1.2,-0.3,0.2,-1.4,1.0,-0.5,0.7,1.3,-1.1,0.3,-0.1,
           -0.9,0.5,1.1,-1.5,0.1,-0.6,1.4,-0.2,0.8,-1.0,0.4,1.2,-1.2,0.0,0.6,-0.4,1.3,-0.8,0.2,-1.3,
           1.0,-0.3,0.5,1.1,-1.1,0.3,-0.5,1.4,-0.9,0.1,-1.4,0.7,-0.1,1.2,-0.6,0.4,-1.0,1.3,-0.2,0.0,
           0.9,-1.2,0.6,-0.4,1.1,-1.3,0.2,1.0,-0.7,0.5,-0.3,1.5,-1.1,0.1,0.7,-0.5,1.2,-0.8,0.4,-1.4,
           0.3,1.1,-0.2,-1.0,0.6,-0.6,1.3,-1.2,0.0,0.8]
F_pur = [4.6,7.9,2.3,9.6,5.5,1.8,8.2,3.7,6.8,10.4,3.0,5.1,8.7,2.0,6.3,4.2,9.9,7.1,2.7,5.8,
         8.9,3.4,6.0,10.8,1.6,7.6,4.9,6.5,3.1,9.2,5.3,4.0,8.4,2.4,7.3,4.5,2.9,8.0,6.1,10.1,
         3.8,6.7,2.2,9.0,5.0,3.3,9.7,6.4,4.3,7.5,2.6,10.6,5.6,7.0,1.9,8.6,4.1,5.9,9.4,3.2,
         7.8,4.7,7.2,2.5,6.2,10.3,3.6,8.8,5.2,2.8,7.7,5.7,9.8,4.0,6.6,2.1,9.1,5.4,3.5,8.1,
         6.0,10.9,4.4,6.9,2.7,9.5,4.8,7.4,2.3,5.5,8.5,3.9,7.0,3.0,10.2,5.1,6.3,2.6,8.9,4.3,
         7.6,3.3,9.3,5.9,4.6,6.8,2.4,9.0,3.7,10.7,6.1,3.1,7.9,5.3,6.5,9.6,3.5,4.2,8.3,2.0,
         5.8,8.0,4.9,10.5,2.9,7.1,4.5,9.2,6.2,2.2,8.7,5.6,3.4,7.5,6.7,4.0,9.9,4.7,2.8,8.4,
         5.7,2.5,7.8,4.1,10.0,7.3,3.2,5.9,8.9,5.0,3.8,6.4,9.4,2.6,7.0,4.8,6.6,10.2,3.6,5.2]
F_tan = [-4.1,-6.9,-2.3,-8.2,-5.4,-2.0,-7.5,-3.6,-6.1,-9.0,-2.8,-4.8,-7.8,-1.7,-5.9,-3.3,-8.6,-6.5,-2.5,-4.5,
         -7.9,-3.1,-5.2,-9.3,-2.1,-7.1,-4.2,-6.0,-2.9,-8.4,-5.0,-3.8,-8.0,-1.9,-6.6,-4.6,-2.6,-7.4,-5.6,-9.1,
         -3.5,-6.3,-2.2,-8.1,-4.9,-3.0,-8.8,-5.8,-4.0,-7.0,-2.4,-9.4,-5.1,-6.7,-1.8,-7.7,-3.7,-5.5,-8.5,-2.7,
         -7.3,-4.3,-6.8,-2.0,-5.7,-9.2,-3.4,-8.3,-4.7,-2.5,-7.2,-5.3,-8.9,-3.9,-6.2,-1.6,-8.0,-4.4,-3.2,-7.6,
         -5.5,-9.0,-4.1,-6.4,-2.3,-8.7,-4.8,-7.0,-1.9,-5.0,-7.9,-3.3,-6.6,-2.8,-9.5,-4.6,-5.9,-2.1,-8.2,-3.6,
         -6.9,-2.6,-8.5,-5.2,-4.0,-6.1,-2.2,-7.8,-3.5,-9.2,-5.7,-2.9,-7.4,-4.5,-6.0,-8.6,-3.0,-3.8,-7.5,-2.4,
         -5.4,-7.1,-4.3,-9.1,-2.7,-6.5,-3.9,-8.1,-5.8,-2.0,-7.7,-4.9,-3.1,-6.7,-6.3,-3.4,-8.8,-4.2,-2.5,-7.2,
         -5.1,-2.3,-7.0,-3.7,-8.4,-6.2,-2.8,-5.0,-7.9,-4.4,-3.2,-5.6,-8.3,-2.1,-6.1,-4.0,-5.3,-8.9,-3.0,-4.7]
F_vio_locus = [23,50,132,196,219,324,498,566,594,735,772,794,840,886,918,1000,1027,1127,1173,1342,
               1374,1470,1502,1557,1639,1671,1854,1991,2059,2155,2187,2269,2324,2392,2461,2552,2635,2671,2780,2895,
               2963,3054,3101,3192,3320,3374,3443,3566,3648,3753,3808,3959,4014,4078,4105]
F_vio_value = [17.8,11.8,16.5,15.1,13.3,13.6,10.9,13.8,15.1,14.2,18.2,16.4,14.2,17.5,12.9,14.2,10.9,12.7,12.9,13.6,
               14.7,13.8,10.9,18.7,13.3,12.4,15.6,15.5,12.4,17.3,14.2,17.3,12.7,16.9,14.2,17.5,18.7,13.8,14.2,10.9,
               11.5,20.2,13.3,13.8,16.0,14.2,15.6,17.5,13.8,18.7,15.1,14.2,15.6,16.4,13.8]
F_blue_locus = [3780,2534,726,1748,379,456,1515,3607,3611,3913]
F_blue_value = [73.8,36.0,27.8,27.5,22.7,22.9,21.1,25.1,20.9,21.5]
F_mor_locus = [251,438,511,603,772,849,900,1022,1100,1215,1374,1570,1648,2013,2141,2205,2374,2530,2644,2689,
               3146,3160,3173,3411,3479,3580,3671,3749,3991,2265,3022]
F_mor_value = [-12,-10.5,-13.6,-12.5,-12,-13.6,-11.6,-12,-13.1,-10.9,-12,-11.6,-14.2,-10.9,-12,-11.5,-12,-10.2,-11.6,-11.3,
               -13.1,-14.2,-12.5,-11.3,-15.3,-15.3,-10.9,-10.9,-7.6,-16.7,-16.7]
F_ora_locus = [1986,2415]
F_ora_value = [-27.6,-22.2]

X_TICKS = [0, 1000, 2000, 3000, 4000]

# ---------------- styling ----------------
COLORS = {"grey": "#BEBEBE", "pur": "#9370DB", "vio": "#7650EA", "blue": "#0000FF",
          "tan": "#DEB887", "mor": "#F0A656", "ora": "#FFA500"}
GROUPS = list(COLORS)
XDOM_L = [-173, 4374]
XDOM_R = [-160, 4173]
W = 316


def band(vals, lo, hi, grp, sw):
    return pd.DataFrame({"locus": np.linspace(lo, hi, len(vals)), "value": vals, "grp": grp, "sw": sw})


def pts(loci, vals, grp, sw):
    return pd.DataFrame({"locus": loci, "value": vals, "grp": grp, "sw": sw})


def panel(frames, h, xdom, ydom, yticks, side, letter=None, size=47, xaxis=False,
          ylabel_expr=None, extras=(), ycalc=None):
    df = pd.concat(frames, ignore_index=True)
    if xaxis:
        xax = alt.Axis(values=X_TICKS, format="d", title=None, labelPadding=21,
                       labelExpr="(datum.value == 2000 || datum.value == 4000) ? '' : datum.label")
    else:
        xax = None
    ykw = dict(orient=side, values=yticks, title=None, labelOffset=2, labelOverlap=False)
    if ylabel_expr:
        ykw["labelExpr"] = ylabel_expr
    base = alt.Chart(df)
    yfield = "value"
    if ycalc:
        base = base.transform_calculate(ydisp=ycalc)
        yfield = "ydisp"
    pts_chart = base.mark_point(shape="circle", filled=False, opacity=1, size=size).encode(
        x=alt.X("locus:Q", scale=alt.Scale(domain=xdom, nice=False, zero=False), axis=xax),
        y=alt.Y(f"{yfield}:Q", scale=alt.Scale(domain=ydom, nice=False, zero=False), axis=alt.Axis(**ykw)),
        color=alt.Color("grp:N", scale=alt.Scale(domain=GROUPS, range=[COLORS[g] for g in GROUPS]), legend=None),
        strokeWidth=alt.StrokeWidth("sw:Q", scale=None),
    )
    layers = [pts_chart]
    layers.extend(extras)
    if letter:
        layers.append(
            alt.Chart(pd.DataFrame({"t": [letter]})).mark_text(
                font=FONT, fontSize=24, fontWeight="bold", align="left", baseline="alphabetic", color="black"
            ).encode(text="t:N", x=alt.value(15), y=alt.value(h - 13))
        )
    return alt.layer(*layers).properties(width=W, height=h)


L0, L1, LH = 5, 4260, 18     # left column band loci and half-step offset
R0, R1, RH = 5, 4080, 17     # right column

A = panel([band(A_grey, L0, L1, "grey", 2.3),
           band(A_grey2, L0 + LH, L1 + LH, "grey", 2.3),
           pts(A_grey_out_locus, A_grey_out_value, "grey", 1.1),
           pts(A_pur_locus, A_pur_value, "pur", 1.1),
           pts(A_tan_locus, A_tan_value, "tan", 1.1)],
          279, XDOM_L, [-10.8, 10.8], [-10, -5, 0, 5, 10], "left", "A")

B = panel([band(B_pur, R0, R1, "pur", 1.3),
           band(B_tan, R0, R1, "tan", 1.3),
           band(B_grey, R0, R1, "grey", 1.9),
           band(B_grey2, R0 + RH, R1 + RH, "grey", 1.9),
           pts(B_tan_out_locus, B_tan_out_value, "tan", 1.1),
           pts(B_vio_locus, B_vio_value, "vio", 1.1),
           pts(B_ora_locus, B_ora_value, "ora", 1.1)],
          279, XDOM_R, [-21.6, 21.6], [-20, -10, 0, 10, 20], "right", "B")

ylab = alt.Chart(pd.DataFrame({"t": ["Δ log likelihood"]})).mark_text(
    font=FONT, fontSize=24, angle=270, align="center", baseline="middle", color="black"
).encode(text="t:N", x=alt.value(-90), y=alt.value(111))

C = panel([band(C_grey, L0, L1, "grey", 2.3),
           band(C_grey2, L0 + LH, L1 + LH, "grey", 2.3),
           pts(C_grey_out_locus, C_grey_out_value, "grey", 1.1),
           pts(C_pur_locus, C_pur_value, "pur", 1.1),
           pts(C_tan_locus, C_tan_value, "tan", 1.1)],
          279, XDOM_L, [-10.77, 10.77], [-10, -5, 0, 5, 10], "left", "C", extras=[ylab])

D = panel([band(D_pur, R0, R1, "pur", 1.3),
           band(D_tan, R0, R1, "tan", 1.3),
           band(D_grey, R0, R1, "grey", 2.1),
           band(D_grey2, R0 + RH, R1 + RH, "grey", 2.1),
           pts(D_vio_locus, D_vio_value, "vio", 1.1),
           pts(D_ora_locus, D_ora_value, "ora", 1.1),
           pts(D_blue_locus, D_blue_value, "blue", 1.3)],
          279, XDOM_R, [-32.5, 32.5], [-30, -20, -10, 0, 10, 20, 30], "right", "D")

# panel E: one view with a broken y axis; the white strip hides the frame between
# the two parts (display 75 -> 74.65 px from top of lower part, 79.7 -> 68.6 px)
EH = 278
one = pd.DataFrame({"k": [0]})
gap_rect = alt.Chart(one).mark_rect(color="white").encode(
    x=alt.value(-3), x2=alt.value(W + 3), y=alt.value(69.3), y2=alt.value(74.0))
gap_lo = alt.Chart(one).mark_rule(color="black", strokeWidth=1.2).encode(
    x=alt.value(0), x2=alt.value(W), y=alt.value(74.65))
gap_hi = alt.Chart(one).mark_rule(color="black", strokeWidth=1.2).encode(
    x=alt.value(0), x2=alt.value(W), y=alt.value(68.6))
brk = alt.Chart(one).mark_rule(color="black", strokeWidth=1.2).encode(
    x=alt.value(-2), x2=alt.value(3), y=alt.value(80), y2=alt.value(74))
xlab = alt.Chart(pd.DataFrame({"t": ["Locus"]})).mark_text(
    font=FONT, fontSize=22, align="center", baseline="alphabetic", color="black"
).encode(text="t:N", x=alt.value(332), y=alt.value(EH + 78.5))

E = panel([band(E_pur, L0, L1, "pur", 1.5),
           band(E_vio, L0, L1, "vio", 1.5),
           band(E_tan, L0, L1, "tan", 1.5),
           band(E_mor, L0, L1, "mor", 1.5),
           band(E_grey, L0, L1, "grey", 1.9),
           band(E_grey2, L0 + LH, L1 + LH, "grey", 1.9),
           pts(E_ora_locus, E_ora_value, "ora", 1.6),
           pts(E_blue_locus, E_blue_value, "blue", 1.8)],
          EH, XDOM_L, [-83, 133], E_TICKS, "left", "E", size=85, xaxis=True,
          ycalc=f"datum.value > 300 ? datum.value - {E_BREAK_SHIFT} : datum.value",
          ylabel_expr="datum.value == 75 ? '350' : (datum.value == 100.4 ? '375' : (datum.value == 125.4 ? '400' : datum.label))",
          extras=[gap_rect, gap_lo, gap_hi, brk, xlab])

F = panel([band(F_pur, R0, R1, "pur", 1.3),
           band(F_tan, R0, R1, "tan", 1.3),
           band(F_grey, R0, R1, "grey", 2.0),
           band(F_grey2, R0 + RH, R1 + RH, "grey", 2.0),
           pts(F_vio_locus, F_vio_value, "vio", 1.1),
           pts(F_mor_locus, F_mor_value, "mor", 1.1),
           pts(F_ora_locus, F_ora_value, "ora", 1.3),
           pts(F_blue_locus, F_blue_value, "blue", 1.3)],
          278, XDOM_R, [-75.7, 75.7], [-60, -40, -20, 0, 20, 40, 60], "right", "F", xaxis=True)

chart = alt.concat(A, B, C, D, E, F, columns=2, spacing=29.4, bounds="flush").resolve_scale(
    x="independent", y="independent"
).properties(
    padding={"left": 9, "top": 5, "right": 5, "bottom": 5}
).configure_axis(
    labelFont=FONT, labelFontSize=22, labelColor="black", tickColor="black", tickWidth=1.2,
    tickSize=15, labelPadding=14, domain=False, grid=False, labelFlush=False, labelOverlap=False
).configure_view(
    stroke="black", strokeWidth=1.2
)

chart.save("out.html", embed_options={"renderer": "svg", "actions": False})
